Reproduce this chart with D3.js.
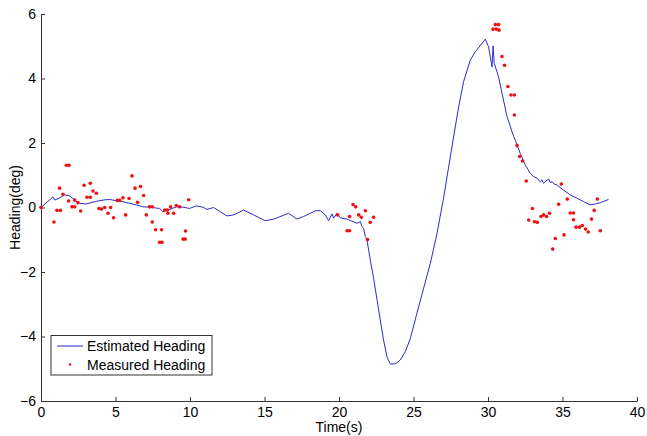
<!DOCTYPE html>
<html>
<head>
<meta charset="utf-8">
<title>Heading</title>
<script src="https://d3js.org/d3.v7.min.js"></script>
<style>
  body { margin: 0; background: #fff; }
  text { font-family: Arial, "Liberation Sans", sans-serif; fill: #000; }
  .axis path, .axis line { stroke: #333; }
</style>
</head>
<body>
<script>

// estimated heading (line)
var estT = [0, 0.81, 0.91, 1.23, 1.58, 1.92, 2.26, 2.59, 3.04, 3.60, 4.16, 4.60, 5.05, 5.50, 5.95, 6.40, 6.85, 7.29, 7.96, 8.19, 8.52, 9.08, 9.53, 9.97, 10.42, 10.87, 11.14, 11.58, 12.03, 12.48, 12.93, 13.60, 14.27, 15.05, 15.61, 16.62, 17.18, 17.62, 18.08, 18.41, 18.75, 19.08, 19.30, 19.53, 19.64, 19.87, 20.09, 20.54, 21.21, 21.44, 21.54, 21.65, 21.77, 21.88, 22.10, 22.32, 22.55, 22.77, 22.99, 23.22, 23.44, 23.78, 24.11, 24.45, 24.79, 25.23, 25.68, 26.13, 26.58, 27.02, 27.36, 27.69, 28.03, 28.36, 28.81, 29.15, 29.60, 29.82, 30.04, 30.27, 30.34, 30.42, 30.71, 30.94, 31.28, 31.72, 31.83, 32.17, 32.50, 32.84, 33.06, 33.29, 33.40, 33.51, 33.62, 33.73, 33.90, 34.07, 34.18, 34.30, 34.45, 34.63, 35.07, 35.52, 35.97, 36.42, 36.87, 37.20, 37.54, 38.09];
var estV = [0, 0.33, 0.23, 0.29, 0.39, 0.36, 0.23, 0.13, 0.11, 0.18, 0.23, 0.25, 0.21, 0.18, 0.13, 0.08, 0.02, 0.01, -0.03, -0.13, -0.08, 0.02, 0.01, -0.03, 0.05, 0.01, -0.06, 0.00, -0.13, -0.26, -0.23, -0.08, -0.23, -0.41, -0.36, -0.18, -0.36, -0.28, -0.18, -0.10, -0.10, -0.23, -0.41, -0.20, -0.33, -0.18, -0.32, -0.36, -0.49, -0.44, -0.59, -0.65, -0.90, -1.01, -1.63, -2.19, -2.85, -3.49, -4.11, -4.63, -4.85, -4.85, -4.73, -4.47, -4.06, -3.28, -2.50, -1.73, -0.80, 0.30, 1.26, 2.19, 3.12, 3.90, 4.57, 4.83, 5.09, 5.22, 4.98, 4.36, 5.01, 4.47, 4.05, 3.54, 2.82, 2.20, 2.09, 1.67, 1.32, 1.06, 0.96, 0.91, 0.84, 0.80, 0.86, 0.75, 0.83, 0.88, 0.78, 0.80, 0.72, 0.70, 0.54, 0.39, 0.29, 0.18, 0.08, 0.11, 0.15, 0.25];

// measured heading (dots)
var measT = [0, 0.87, 1.07, 1.30, 1.25, 1.48, 1.70, 1.88, 1.85, 2.08, 2.26, 2.26, 2.48, 2.66, 2.89, 3.09, 3.31, 3.31, 3.49, 3.71, 3.89, 4.07, 4.27, 4.50, 4.67, 4.87, 5.12, 5.28, 5.50, 5.68, 5.91, 6.11, 6.31, 6.48, 6.68, 6.89, 7.07, 7.29, 7.47, 7.47, 7.69, 7.96, 8.12, 8.09, 8.30, 8.48, 8.52, 8.70, 8.90, 9.08, 9.30, 9.53, 9.68, 9.70, 9.91,
  19.91, 20.54, 20.71, 20.71, 20.94, 21.12, 21.32, 21.50, 21.77, 21.92, 22.10, 22.32,
  30.49, 30.71, 30.34, 30.56, 30.74, 30.94, 31.11, 31.34, 31.54, 31.77, 31.77, 31.95, 32.12, 32.32, 32.57, 32.73, 32.98, 33.12, 33.31, 33.56, 33.73, 33.93, 34.13, 34.34, 34.52, 34.74, 34.92, 35.10, 35.32, 35.52, 35.74, 35.74, 35.91, 36.14, 36.33, 36.55, 36.73, 36.95, 37.13, 37.34, 37.54];
var measV = [0, -0.45, -0.09, -0.09, 0.60, 0.41, 1.31, 1.31, 0.20, 0.02, 0.02, 0.23, 0.15, -0.11, 0.69, 0.32, 0.32, 0.75, 0.51, 0.44, -0.03, -0.05, 0.00, -0.18, 0.00, -0.32, 0.22, 0.22, 0.30, -0.23, 0.28, 0.98, 0.60, 0.16, 0.65, 0.37, -0.23, 0.02, 0.02, -0.45, -0.69, -1.08, -1.08, -0.69, -0.08, -0.08, -0.18, 0.02, -0.18, 0.06, 0.02, -0.98, -0.98, -0.73, 0.24,
  -0.23, -0.72, -0.72, -0.28, 0.09, 0.02, -0.23, -0.30, -0.10, -0.99, -0.46, -0.30,
  5.67, 5.67, 5.53, 5.53, 5.50, 4.68, 4.41, 3.75, 3.49, 3.49, 2.87, 1.92, 1.58, 1.44, 0.82, -0.39, -0.03, -0.44, -0.46, -0.28, -0.23, -0.28, -0.18, -1.29, -0.96, 0.10, 0.73, -0.85, 0.26, -0.17, -0.17, -0.38, -0.61, -0.61, -0.56, -0.67, -0.76, -0.36, -0.09, 0.26, -0.72];

var xTicks = [0, 5, 10, 15, 20, 25, 30, 35, 40];
var yTicks = [-6, -4, -2, 0, 2, 4, 6];

var w = 647, h = 436;
var padL = 41, padR = 637, padT = 14, padB = 401;

var svg = d3.select("body").append("svg")
    .attr("width", w)
    .attr("height", h);

var x = d3.scaleLinear().domain([0, 40]).range([padL, padR]);
var y = d3.scaleLinear().domain([-6, 6]).range([padB, padT]);

// axes, ticks pointing inward like matlab
svg.append("g")
    .attr("class", "axis")
    .attr("transform", "translate(0," + padB + ")")
    .call(d3.axisBottom(x).tickValues(xTicks).tickSizeInner(-4).tickSizeOuter(0).tickPadding(6))
    .selectAll("text").style("font-size", "14px");

svg.append("g")
    .attr("class", "axis")
    .attr("transform", "translate(" + padL + ",0)")
    .call(d3.axisLeft(y).tickValues(yTicks).tickSizeInner(-4).tickSizeOuter(0).tickPadding(5))
    .selectAll("text").style("font-size", "14px");

svg.selectAll(".axis .domain").attr("stroke", "#333");

// line
var line = d3.line()
    .x(function(d, i) { return x(estT[i]); })
    .y(function(d, i) { return y(estV[i]); });

svg.append("path")
    .datum(estV)
    .attr("fill", "none")
    .attr("stroke", "#2b2bd0")
    .attr("stroke-width", 1)
    .attr("d", line);

// dots
svg.append("g")
    .selectAll("circle")
    .data(measV)
  .enter()
    .append("circle")
    .attr("cx", function(d, i) { return x(measT[i]); })
    .attr("cy", function(d) { return y(d); })
    .attr("r", 1.8)
    .attr("fill", "#f01010");

// labels
svg.append("text")
    .attr("x", (padL + padR) / 2)
    .attr("y", 432)
    .attr("text-anchor", "middle")
    .style("font-size", "14px")
    .text("Time(s)");

svg.append("text")
    .attr("transform", "translate(20," + y(0) + ") rotate(-90)")
    .attr("text-anchor", "middle")
    .style("font-size", "14px")
    .text("Heading(deg)");

// legend
var lg = svg.append("g");
lg.append("rect")
    .attr("x", 51).attr("y", 335.5)
    .attr("width", 161).attr("height", 39.5)
    .attr("fill", "#fff").attr("stroke", "#333");
lg.append("line")
    .attr("x1", 57).attr("x2", 83)
    .attr("y1", 346).attr("y2", 346)
    .attr("stroke", "#2b2bd0");
lg.append("circle")
    .attr("cx", 70).attr("cy", 364.5).attr("r", 1.3)
    .attr("fill", "#f01010");
lg.append("text")
    .attr("x", 87).attr("y", 351)
    .style("font-size", "14px")
    .text("Estimated Heading");
lg.append("text")
    .attr("x", 87).attr("y", 370)
    .style("font-size", "14px")
    .text("Measured Heading");

</script>
</body>
</html>
